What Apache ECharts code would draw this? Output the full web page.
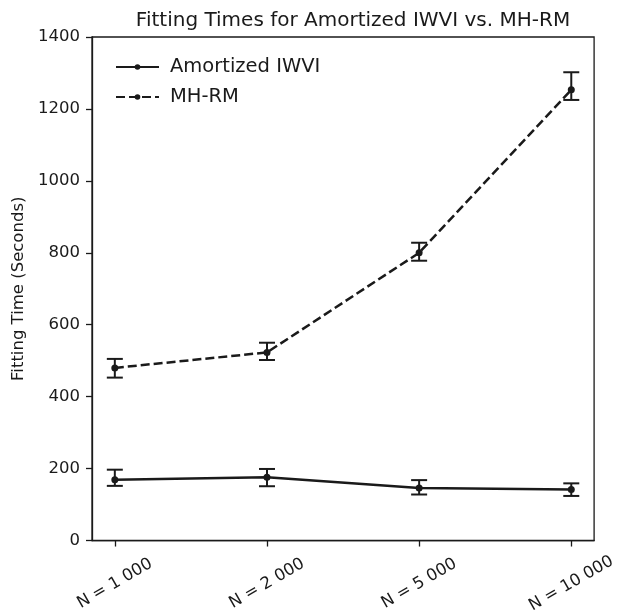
<!DOCTYPE html>
<html>
<head>
<meta charset="utf-8">
<script src="https://cdn.jsdelivr.net/npm/echarts@6/dist/echarts.min.js"></script>
<style>
  html, body { margin: 0; padding: 0; background: #fff; }
  #chart { width: 619px; height: 616px; }
</style>
</head>
<body>
<div id="chart"></div>
<script>
// categories on the x axis
const categories = ['N = 1 000', 'N = 2 000', 'N = 5 000', 'N = 10 000']

// mean fitting times (seconds)
const amortizedMean = [169, 176, 146, 142]
const mhrmMean = [480, 523, 800, 1253]

// error bar ends [low, high]
const amortizedErr = [[152, 197], [151, 199], [128, 168], [124, 159]]
const mhrmErr = [[453, 505], [502, 550], [778, 828], [1225, 1302]]

const yTicks = [0, 200, 400, 600, 800, 1000, 1200, 1400]

const font = 'DejaVu Sans'
const ink = '#1a1a1a'

const toPoints = arr => arr.map((v, i) => [i, v])
const toErr = arr => arr.map((e, i) => [i, e[0], e[1]])

// draws the vertical bar and two caps for each point
const errorRender = (params, api) => {
    const x = api.value(0)
    const lo = api.coord([x, api.value(1)])
    const hi = api.coord([x, api.value(2)])
    const cap = 8
    const style = { stroke: ink, lineWidth: 2 }
    return {
        type: 'group',
        children: [
            { type: 'line', shape: { x1: lo[0], y1: lo[1], x2: hi[0], y2: hi[1] }, style },
            { type: 'line', shape: { x1: lo[0] - cap, y1: lo[1], x2: lo[0] + cap, y2: lo[1] }, style },
            { type: 'line', shape: { x1: hi[0] - cap, y1: hi[1], x2: hi[0] + cap, y2: hi[1] }, style }
        ]
    }
}

const myChart = echarts.init(document.getElementById('chart'))

const option = {
    animation: false,
    backgroundColor: '#fff',
    title: {
        text: 'Fitting Times for Amortized IWVI vs. MH-RM',
        left: 348,
        textAlign: 'center',
        top: 6,
        textStyle: { fontFamily: font, fontSize: 20, fontWeight: 'normal', color: ink }
    },
    legend: {
        orient: 'vertical',
        left: 110,
        top: 52,
        itemWidth: 43,
        itemHeight: 7,
        itemGap: 10,
        data: ['Amortized IWVI', 'MH-RM'],
        textStyle: { fontFamily: font, fontSize: 19.5, color: ink, padding: [0, 0, 0, 6] }
    },
    grid: {
        left: 92, right: 21, top: 37, bottom: 72,
        show: true,
        borderColor: ink,
        borderWidth: 1.3,
        backgroundColor: 'transparent'
    },
    xAxis: {
        type: 'value',
        min: -0.15,
        max: 3.15,
        splitLine: { show: false },
        axisLine: { onZero: false, lineStyle: { color: ink, width: 1.3 } },
        axisTick: { customValues: [0, 1, 2, 3], length: 6, lineStyle: { color: ink, width: 1.3 } },
        axisLabel: {
            customValues: [0, 1, 2, 3],
            formatter: v => categories[Math.round(v)],
            rotate: 30,
            align: 'center',
            verticalAlign: 'middle',
            margin: 43,
            fontFamily: font,
            fontSize: 16.5,
            color: ink
        }
    },
    yAxis: {
        type: 'value',
        min: 0,
        max: 1400,
        interval: 200,
        name: 'Fitting Time (Seconds)',
        nameLocation: 'middle',
        nameGap: 62,
        nameRotate: 90,
        nameTextStyle: { fontFamily: font, fontSize: 16.5, color: ink },
        splitLine: { show: false },
        axisLine: { show: true, onZero: false, lineStyle: { color: ink, width: 1.3 } },
        axisTick: { show: true, length: 6, lineStyle: { color: ink, width: 1.3 } },
        axisLabel: {
            margin: 12,
            formatter: v => (yTicks.includes(v) ? String(v) : ''),
            fontFamily: font,
            fontSize: 16.5,
            color: ink
        }
    },
    series: [
        {
            name: 'Amortized IWVI',
            type: 'line',
            data: toPoints(amortizedMean),
            symbol: 'circle',
            symbolSize: 7,
            itemStyle: { color: ink },
            lineStyle: { color: ink, width: 2.5 },
            z: 3
        },
        {
            name: 'MH-RM',
            type: 'line',
            data: toPoints(mhrmMean),
            symbol: 'circle',
            symbolSize: 7,
            itemStyle: { color: ink },
            lineStyle: { color: ink, width: 2.5, type: [9, 4] },
            z: 3
        },
        {
            type: 'custom',
            renderItem: errorRender,
            data: toErr(amortizedErr),
            z: 4
        },
        {
            type: 'custom',
            renderItem: errorRender,
            data: toErr(mhrmErr),
            z: 4
        }
    ]
}

option && myChart.setOption(option)
</script>
</body>
</html>
